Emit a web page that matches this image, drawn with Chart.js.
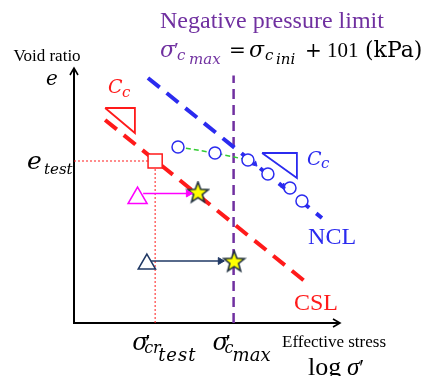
<!DOCTYPE html>
<html>
<head>
<meta charset="utf-8">
<script src="https://cdn.jsdelivr.net/npm/chart.js@4/dist/chart.umd.min.js"></script>
<style>
  html, body { margin: 0; padding: 0; background: #ffffff; }
  #wrap { width: 433px; height: 376px; }
</style>
</head>
<body>
<div id="wrap"><canvas id="chart" width="433" height="376"></canvas></div>
<script>
// e – log σ' schematic. Axis units: origin at 0, axis tips near 10.
const nclLine        = [{x: 2.78, y: 9.80}, {x: 9.32, y: 4.20}];
const cslLine        = [{x: 1.17, y: 8.12}, {x: 8.76, y: 1.60}];
const sigmaMaxX      = 6.0;
const limitLine      = [{x: sigmaMaxX, y: 0}, {x: sigmaMaxX, y: 9.9}];
const testPoint      = [{x: 3.05, y: 6.48}];
const eTestGuide     = [{x: 0, y: 6.48}, {x: 3.05, y: 6.48}];
const sigmaTestGuide = [{x: 3.05, y: 6.48}, {x: 3.05, y: 0}];
const ncPoints       = [
  {x: 3.91, y: 7.04}, {x: 5.30, y: 6.80}, {x: 6.54, y: 6.52},
  {x: 7.29, y: 5.96}, {x: 8.12, y: 5.40}, {x: 8.57, y: 4.88}
];
const unloadPath     = [{x: 3.91, y: 7.04}, {x: 5.30, y: 6.80}, {x: 6.54, y: 6.52}];
const pathTicks      = [{x: 6.80, y: 6.36}, {x: 7.86, y: 5.48}];
const cslSlope       = [{x: 1.17, y: 8.60}, {x: 2.29, y: 8.60}, {x: 2.29, y: 7.60}, {x: 1.17, y: 8.60}];
const nclSlope       = [{x: 7.07, y: 6.80}, {x: 8.38, y: 6.80}, {x: 8.38, y: 5.80}, {x: 7.07, y: 6.80}];
const upperStart     = [{x: 2.39, y: 5.00}];
const upperArrow     = [{x: 2.60, y: 5.18}, {x: 4.30, y: 5.18}];
const upperStar      = [{x: 4.66, y: 5.20}];
const lowerStart     = [{x: 2.74, y: 2.36}];
const lowerArrow     = [{x: 2.90, y: 2.48}, {x: 5.50, y: 2.48}];
const lowerStar      = [{x: 6.02, y: 2.44}];
const axisTop        = 10.2;
const axisRight      = 10.0;

const BLUE = '#2b2bef', RED = '#ff1a1a', PURPLE = '#7030a0', GREEN = '#33cc33';
const MAGENTA = '#ff00ff', NAVY = '#1f3864';
const SERIF = '"Liberation Serif", "Times New Roman", serif';
const MATH = '"DejaVu Serif", serif';

// filled star marker
function makeStar(size) {
  const c = document.createElement('canvas');
  c.width = size; c.height = size;
  const g = c.getContext('2d');
  const cx = size / 2, cy = size / 2, ro = size / 2 - 1.5, ri = ro * 0.42;
  g.beginPath();
  for (let i = 0; i < 10; i++) {
    const r = i % 2 ? ri : ro;
    const a = -Math.PI / 2 + i * Math.PI / 5;
    g.lineTo(cx + r * Math.cos(a), cy + r * Math.sin(a));
  }
  g.closePath();
  g.fillStyle = '#ffff00';
  g.fill();
  g.lineWidth = 1.6;
  g.strokeStyle = '#1e2f3f';
  g.stroke();
  return c;
}
const star = makeStar(25);

function line(data, color, width, dash, order) {
  return { data, showLine: true, borderColor: color, borderWidth: width, borderDash: dash || [],
           pointRadius: 0, fill: false, order: order, tension: 0 };
}
function pts(data, style, radius, color, opts) {
  return Object.assign({ data, showLine: false, pointStyle: style, pointRadius: radius,
           pointBorderColor: color, pointBackgroundColor: '#ffffff', pointBorderWidth: 1.5, order: 0 }, opts || {});
}

// each part: text, x/y offsets from the anchor, size, italic, font family, colour
function drawParts(ctx, x0, y0, parts) {
  ctx.textAlign = 'left';
  ctx.textBaseline = 'alphabetic';
  for (const p of parts) {
    ctx.font = (p.it ? 'italic ' : '') + p.size + 'px ' + (p.f || MATH);
    ctx.fillStyle = p.color || '#000000';
    ctx.letterSpacing = (p.ls || 0) + 'px';
    ctx.fillText(p.t, x0 + p.x, y0 + (p.y || 0));
  }
  ctx.letterSpacing = '0px';
}

const decor = {
  id: 'decor',
  beforeDatasetsDraw(chart) {
    const ctx = chart.ctx, xs = chart.scales.x, ys = chart.scales.y;
    const X = v => xs.getPixelForValue(v), Y = v => ys.getPixelForValue(v);
    ctx.save();
    ctx.strokeStyle = '#000000';
    ctx.lineWidth = 2;
    ctx.beginPath();
    ctx.moveTo(X(0), Y(axisTop));
    ctx.lineTo(X(0), Y(0));
    ctx.lineTo(X(axisRight), Y(0));
    ctx.stroke();
    ctx.lineWidth = 1.6;
    ctx.beginPath();
    ctx.moveTo(X(0) - 4, Y(axisTop) + 7); ctx.lineTo(X(0), Y(axisTop)); ctx.lineTo(X(0) + 4, Y(axisTop) + 7);
    ctx.moveTo(X(axisRight) - 7, Y(0) - 4); ctx.lineTo(X(axisRight), Y(0)); ctx.lineTo(X(axisRight) - 7, Y(0) + 4);
    ctx.stroke();
    ctx.restore();
  },
  afterDatasetsDraw(chart) {
    const ctx = chart.ctx, xs = chart.scales.x, ys = chart.scales.y;
    const X = v => xs.getPixelForValue(v), Y = v => ys.getPixelForValue(v);
    ctx.save();
    // heading
    drawParts(ctx, 160, 28, [{t: 'Negative pressure limit', x: 0, size: 24, f: SERIF, color: PURPLE}]);
    drawParts(ctx, 160, 57, [
      {t: 'σ', x: 0, size: 22, it: true, color: PURPLE},
      {t: '′', x: 14, y: 0, size: 22, f: SERIF, color: PURPLE},
      {t: 'c', x: 17, y: 3, size: 15, it: true, color: PURPLE},
      {t: 'max', x: 29, y: 7, size: 15, it: true, color: PURPLE},
      {t: '=', x: 69, y: 0, size: 20},
      {t: 'σ', x: 89, size: 22, it: true},
      {t: 'c', x: 105, y: 3, size: 15, it: true},
      {t: 'ini', x: 116, y: 7, size: 15, it: true},
      {t: '+', x: 145, size: 20},
      {t: '101', x: 167, size: 21, f: SERIF},
      {t: '(kPa)', x: 205, size: 22}
    ]);
    // axis captions
    ctx.font = '17px ' + SERIF; ctx.fillStyle = '#000'; ctx.textAlign = 'center';
    ctx.fillText('Void ratio', X(0) - 27, Y(0) - 262);
    drawParts(ctx, X(0), Y(axisTop), [{t: 'e', x: -28, y: 17, size: 20, it: true}]);
    drawParts(ctx, X(0), Y(6.48), [
      {t: 'e', x: -47, y: 8, size: 25, it: true},
      {t: 'test', x: -30, y: 13, size: 15, it: true}
    ]);
    drawParts(ctx, X(0), Y(0), [
      {t: 'Effective stress', x: 208, y: 24, size: 17, f: SERIF},
      {t: 'log', x: 234, y: 52, size: 26, f: SERIF},
      {t: 'σ', x: 273, y: 52, size: 25, it: true, f: SERIF},
      {t: '′', x: 285, y: 52, size: 24, f: SERIF}
    ]);
    // tick labels
    drawParts(ctx, X(testPoint[0].x), Y(0), [
      {t: 'σ', x: -23, y: 27, size: 24, it: true},
      {t: '′', x: -10, y: 27, size: 24, f: SERIF},
      {t: 'cr', x: -11, y: 30, size: 16, it: true},
      {t: 'test', x: 3, y: 38, size: 18, it: true, ls: 1}
    ]);
    drawParts(ctx, X(sigmaMaxX), Y(0), [
      {t: 'σ', x: -21, y: 27, size: 24, it: true},
      {t: '′', x: -8, y: 27, size: 24, f: SERIF},
      {t: 'c', x: -9, y: 30, size: 16, it: true},
      {t: 'max', x: -1, y: 38, size: 18, it: true}
    ]);
    // line labels
    drawParts(ctx, X(8.8), Y(3.16), [{t: 'NCL', x: 0, size: 24, f: SERIF, color: BLUE}]);
    drawParts(ctx, X(8.27), Y(0.52), [{t: 'CSL', x: 0, size: 24, f: SERIF, color: RED}]);
    drawParts(ctx, X(1.28), Y(9.2), [
      {t: 'C', x: 0, size: 19, it: true, color: RED},
      {t: 'c', x: 14, y: 4, size: 15, it: true, color: RED}
    ]);
    drawParts(ctx, X(8.76), Y(6.32), [
      {t: 'C', x: 0, size: 19, it: true, color: BLUE},
      {t: 'c', x: 14, y: 3, size: 15, it: true, color: BLUE}
    ]);
    ctx.restore();
  }
};

new Chart(document.getElementById('chart'), {
  type: 'scatter',
  data: {
    datasets: [
      line(nclLine, BLUE, 4, [15, 9], 6),
      line(cslLine, RED, 4, [15, 9], 6),
      line(limitLine, PURPLE, 2.5, [10, 6], 6),
      line(eTestGuide, RED, 1, [2, 2], 7),
      line(sigmaTestGuide, RED, 1, [2, 2], 7),
      line(unloadPath, GREEN, 1.5, [5, 3], 5),
      line(cslSlope, RED, 1.8, [], 5),
      line(nclSlope, BLUE, 1.8, [], 5),
      line(upperArrow, MAGENTA, 1.5, [], 4),
      line(lowerArrow, NAVY, 1.5, [], 4),
      pts([upperArrow[1]], 'triangle', 4, MAGENTA, {pointRotation: 90, pointBackgroundColor: MAGENTA, pointBorderWidth: 1}),
      pts([lowerArrow[1]], 'triangle', 4, NAVY, {pointRotation: 90, pointBackgroundColor: NAVY, pointBorderWidth: 1}),
      pts(pathTicks, 'triangle', 3, BLUE, {pointRotation: 135, pointBackgroundColor: BLUE, pointBorderWidth: 1}),
      pts(ncPoints, 'circle', 6, BLUE),
      pts(testPoint, 'rect', 10, RED),
      pts(upperStart, 'triangle', 11, MAGENTA, {pointBackgroundColor: 'rgba(255,255,255,0)'}),
      pts(lowerStart, 'triangle', 10, NAVY, {pointBackgroundColor: 'rgba(255,255,255,0)'}),
      pts(upperStar, star, 12, '#000'),
      pts(lowerStar, star, 12, '#000')
    ]
  },
  options: {
    responsive: false,
    animation: false,
    events: [],
    layout: { padding: 0, autoPadding: false },
    plugins: { legend: { display: false }, tooltip: { enabled: false } },
    scales: {
      x: { type: 'linear', display: false, min: -74 / 26.6, max: (433 - 74) / 26.6 },
      y: { type: 'linear', display: false, min: -(376 - 323) / 25, max: 323 / 25 }
    }
  },
  plugins: [decor]
});
</script>
</body>
</html>
